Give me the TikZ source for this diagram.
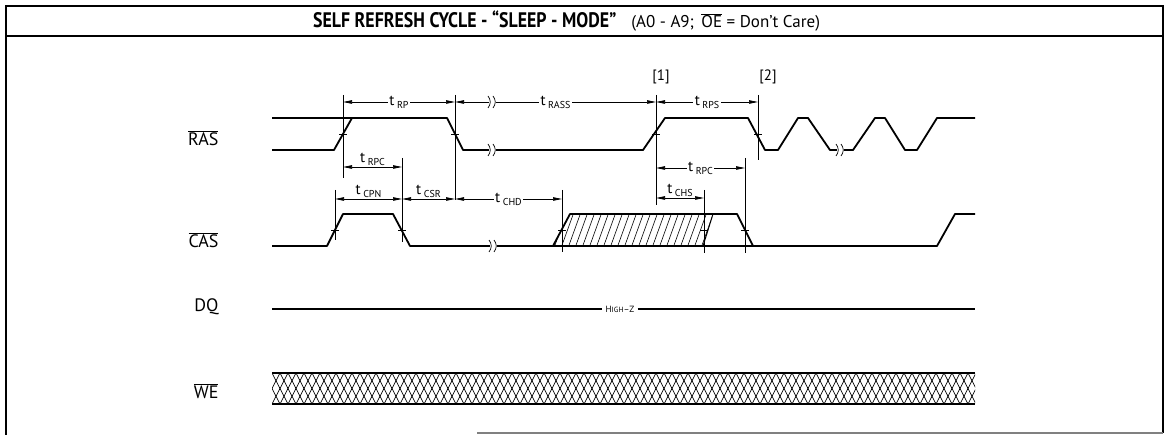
\documentclass[tikz,border=0pt]{standalone}
\usepackage{fontspec}
\setmainfont{PT Sans}
\newfontfamily\titlefont[FakeStretch=0.85]{PT Sans}
\usetikzlibrary{arrows.meta}

\tikzset{
  sig/.style={line width=1.8pt, line join=round},
  dim/.style={line width=0.7pt, {Triangle[length=9pt,width=3.5pt]}-{Triangle[length=9pt,width=3.5pt]}},
  refl/.style={line width=0.7pt},
  lbl/.style={font=\fontsize{15}{15}\selectfont, inner sep=1.5pt},
  sname/.style={font=\fontsize{18}{18}\selectfont, anchor=east},
}
\newcommand\tlab[1]{t\,\raisebox{-0.4ex}{\fontsize{10}{10}\selectfont #1}}
\newcommand\ovl[1]{$\overline{\mbox{#1}}$}
% break mark "))" on a line
\newcommand\gapmark[2]{%
  \fill[white] (#1-3,#2-6) rectangle (#1+4,#2+6);
  \draw[refl] (#1-4,#2-6) .. controls (#1-1,#2-2) and (#1-1,#2+2) .. (#1-4,#2+6);
  \draw[refl] (#1+1,#2-6) .. controls (#1+4,#2-2) and (#1+4,#2+2) .. (#1+1,#2+6);}

\begin{document}
\begin{tikzpicture}[x=1pt, y=-1pt]
    \useasboundingbox (0,0) rectangle (1168,435);
    % frame
    \draw[line width=2.2pt] (6,435) -- (6,6) -- (1163,6) -- (1163,433);
    \draw[line width=2.2pt] (6,36) -- (1163,36);
    \draw[line width=1.2pt, gray] (477,433) -- (1163,433);
    \node[anchor=west, inner sep=0pt] (title) at (313,21)
        {{\titlefont\bfseries\fontsize{21}{21}\selectfont SELF REFRESH CYCLE - “SLEEP - MODE”}\hspace{1.5em}{\fontsize{17}{17}\selectfont (A0 - A9;\, \ovl{OE} = Don’t Care)}};

    % signal names
    \node[sname] (ras) at (222,138) {\ovl{RAS}};
    \node[sname] (cas) at (222,240) {\ovl{CAS}};
    \node[sname] (dq) at (222,307) {DQ};
    \node[sname] (we) at (222,391) {\ovl{WE}};

    % reference lines
    \draw[refl] (343,95) -- (343,178);
    \draw[refl] (335,190) -- (335,240);
    \draw[refl] (402,158) -- (402,242);
    \draw[refl] (455,95) -- (455,200);
    \draw[refl] (562,190) -- (562,252);
    \draw[refl] (656,95) -- (656,205);
    \draw[refl] (704,190) -- (704,253);
    \draw[refl] (745,158) -- (745,253);
    \draw[refl] (758,95) -- (758,160);

    % RAS
    \draw[sig] (272,118) -- (447,118) -- (463,150) -- (643,150) -- (665,118) -- (748,118) -- (765,150)
        -- (778,150) -- (798,118) -- (808,118) -- (830,150) -- (853,150) -- (875,118) -- (885,118)
        -- (905,150) -- (917,150) -- (937,118) -- (975,118);
    \draw[sig] (272,150) -- (334,150) -- (352,118);
    \gapmark{492}{150}
    \gapmark{840}{150}

    % CAS
    \begin{scope}
        \clip (553,246) -- (570,214) -- (713,214) -- (703,246) -- cycle;
        \foreach \x in {540,547,...,720}
            \draw[line width=0.6pt] (\x,248) -- (\x+13,212);
    \end{scope}
    \draw[line width=1pt] (703,246) -- (713,214);
    \draw[sig] (272,246) -- (327,246) -- (343,214) -- (393,214) -- (410,246) -- (937,246) -- (955,214) -- (975,214);
    \draw[sig] (553,246) -- (570,214) -- (737,214) -- (753,246);
    \gapmark{493}{246}

    % ticks at crossings
    \foreach \x/\y in {343/134, 455/134, 656/134, 758/134, 335/230, 402/230, 562/230, 704/230, 745/230}
        \draw[refl] (\x-4,\y) -- (\x+4,\y);

    % DQ
    \node[font=\fontsize{9}{9}\selectfont, inner sep=3pt] (hiz) at (620,309) {H{\fontsize{7.5}{7.5}\selectfont IGH}--Z};
    \draw[line width=1.5pt] (272,309) -- (hiz.west);
    \draw[line width=1.5pt] (hiz.east) -- (975,309);

    % WE
    \begin{scope}
        \clip (272,373) rectangle (975,404);
        \foreach \x in {256,264,...,976} {
            \draw[line width=0.7pt] (\x,404) -- (\x+16,373);
            \draw[line width=0.7pt] (\x,373) -- (\x+16,404);
        }
    \end{scope}
    \draw[sig] (272,373) -- (975,373);
    \draw[sig] (272,404) -- (975,404);

    % timing marks
    \coordinate (rp1) at (343,102);  \coordinate (rp2) at (455,102);
    \coordinate (rs1) at (455,102);  \coordinate (rs2) at (656,102);
    \coordinate (ps1) at (656,102);  \coordinate (ps2) at (758,102);
    \coordinate (pc1) at (343,167);  \coordinate (pc2) at (402,167);
    \coordinate (cp1) at (335,199);  \coordinate (cp2) at (402,199);
    \coordinate (cs1) at (402,199);  \coordinate (cs2) at (455,199);
    \coordinate (ch1) at (455,199);  \coordinate (ch2) at (562,199);
    \coordinate (qc1) at (656,168);  \coordinate (qc2) at (745,168);
    \coordinate (hs1) at (656,198);  \coordinate (hs2) at (704,198);

    \draw[dim] (rp1) -- node[lbl, fill=white] (trp) {\tlab{RP}} (rp2);
    \draw[dim] (rs1) -- node[lbl, fill=white] (trass) {\tlab{RASS}} (rs2);
    \gapmark{492}{102}
    \draw[dim] (ps1) -- node[lbl, fill=white] (trps) {\tlab{RPS}} (ps2);
    \draw[dim] (pc1) -- node[lbl, above] (trpc) {\tlab{RPC}} (pc2);
    \draw[dim] (cp1) -- node[lbl, above] (tcpn) {\tlab{CPN}} (cp2);
    \draw[dim] (cs1) -- node[lbl, above] (tcsr) {\tlab{CSR}} (cs2);
    \draw[dim] (ch1) -- node[lbl, fill=white] (tchd) {\tlab{CHD}} (ch2);
    \draw[dim] (qc1) -- node[lbl, fill=white] (trpcb) {\tlab{RPC}} (qc2);
    \draw[dim] (hs1) -- node[lbl, above] (tchs) {\tlab{CHS}} (hs2);

    \node[font=\fontsize{15}{15}\selectfont] (n1) at (661,77) {[1]};
    \node[font=\fontsize{15}{15}\selectfont] (n2) at (768,77) {[2]};
\end{tikzpicture}
\end{document}
